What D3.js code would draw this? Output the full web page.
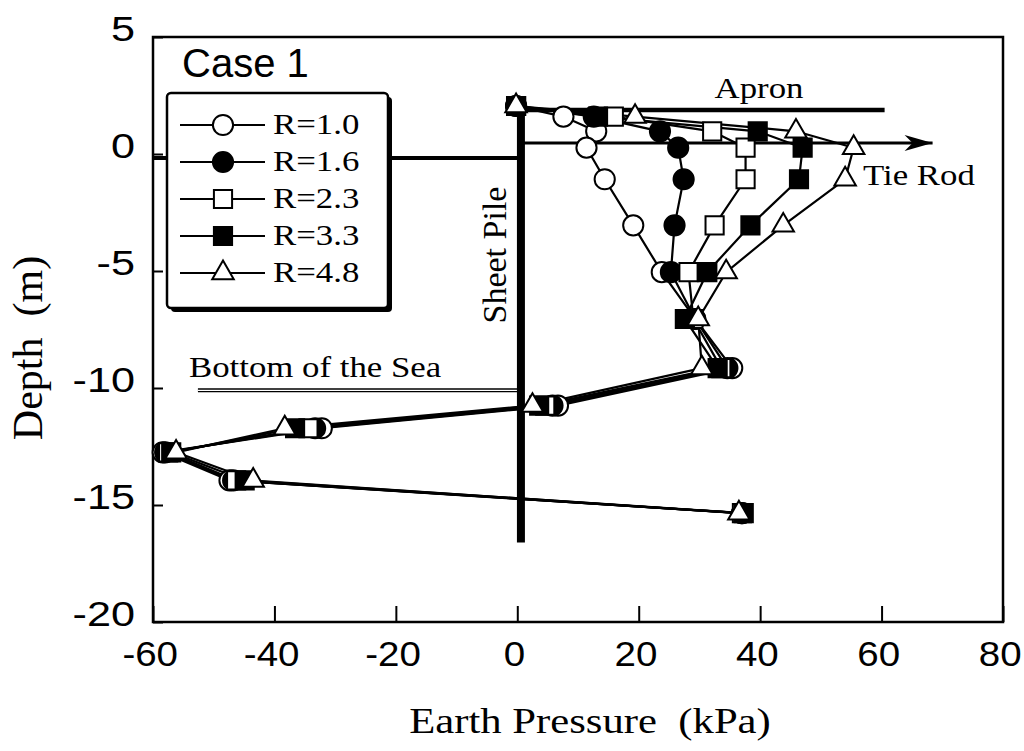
<!DOCTYPE html>
<html>
<head>
<meta charset="utf-8">
<script src="https://cdn.jsdelivr.net/npm/d3@7"></script>
<style>
  body { margin: 0; background: #fff; }
  svg { display: block; }
</style>
</head>
<body>
<div id="chart"></div>
<script>
// Depth of each measuring point (m), same for every case
const depths = [2.05, 1.6, 0.97, 0.27, -1.08, -3.05, -5.05, -7.05, -9.15, -10.75, -11.72, -12.75, -13.95, -15.35];

// Earth pressure (kPa) at those depths, one list per R
const pR10 = [-0.2, 7.6, 13.0, 11.4, 14.4, 19.1, 23.8, 29.3, 35.4, 6.7, -32.2, -58.4, -47.4, 37.0];
const pR16 = [-0.2, 12.6, 23.5, 26.5, 27.4, 25.9, 25.3, 29.3, 34.6, 5.8, -33.3, -58.0, -46.8, 37.0];
const pR23 = [-0.2, 15.9, 32.1, 37.6, 37.6, 32.5, 28.2, 29.0, 33.6, 4.6, -34.4, -57.5, -46.3, 37.0];
const pR33 = [-0.2, 13.3, 39.6, 47.0, 46.4, 38.4, 31.3, 27.6, 33.0, 3.6, -36.6, -57.0, -44.9, 37.3];
const pR48 = [-0.2, 19.4, 45.9, 55.4, 54.0, 43.8, 34.4, 29.8, 30.4, 2.5, -38.3, -56.2, -43.5, 36.5];

const seriesNames = ["R=1.0", "R=1.6", "R=2.3", "R=3.3", "R=4.8"];
const seriesValues = [pR10, pR16, pR23, pR33, pR48];
const seriesShapes = ["circle", "circle", "square", "square", "triangle"];
const seriesFilled = [false, true, false, true, false];

const xTicks = [-60, -40, -20, 0, 20, 40, 60, 80];
const yTicks = [5, 0, -5, -10, -15, -20];

// Structures, as [pressure, depth] pairs
const pileLine = [[0.6, 2.35], [0.6, -16.6]];
const apronLine = [[0.6, 1.88], [60.5, 1.88]];
const tieRodLine = [[0.6, 0.47], [68.4, 0.47]];
const groundLine = [[-60, -0.17], [0.6, -0.17]];
const seabedLine = [[-52.6, -10.1], [0.6, -10.1]];

const sans = "'Liberation Sans', Arial, Helvetica, sans-serif";
const serif = "'Liberation Serif', 'Times New Roman', Times, serif";

const width = 1024, height = 751;
const svg = d3.select("#chart").append("svg")
  .attr("width", width)
  .attr("height", height);

// Scales
const x = d3.scaleLinear().domain([-60, 80]).range([153, 1003]);
const y = d3.scaleLinear().domain([-20, 5]).range([622, 37]);

// Axes (ticks point inward)
svg.append("g")
  .attr("transform", `translate(${x(-60)},0)`)
  .call(d3.axisLeft(y).tickValues(yTicks).tickSize(-10).tickSizeOuter(0).tickFormat(d => String(d)))
  .attr("font-family", sans)
  .attr("font-size", 36)
  .call(g => g.select(".domain").remove())
  .call(g => g.selectAll(".tick line").attr("stroke-width", 2))
  .call(g => g.selectAll(".tick text")
    .attr("x", -15).attr("y", 3).attr("dy", null)
    .attr("transform", "scale(1.2,1)"));

svg.append("g")
  .attr("transform", `translate(0,${y(-20)})`)
  .call(d3.axisBottom(x).tickValues(xTicks).tickSize(-16).tickSizeOuter(0).tickFormat(d => String(d)))
  .attr("font-family", sans)
  .attr("font-size", 35)
  .call(g => g.select(".domain").remove())
  .call(g => g.selectAll(".tick line").attr("stroke-width", 2))
  .call(g => g.selectAll(".tick text")
    .attr("x", -3).attr("y", 44).attr("dy", null)
    .attr("transform", "scale(1.1,1)"));

// Frame
svg.append("rect")
  .attr("x", x(-60)).attr("y", y(5))
  .attr("width", x(80) - x(-60)).attr("height", y(-20) - y(5))
  .attr("fill", "none").attr("stroke", "#000").attr("stroke-width", 2.5);

const line = d3.line().x(d => x(d[0])).y(d => y(d[1]));

// Structures
svg.append("path").attr("d", line(groundLine)).attr("stroke", "#000").attr("stroke-width", 4).attr("fill", "none");
svg.append("path").attr("d", line(seabedLine)).attr("stroke", "#000").attr("stroke-width", 4).attr("fill", "none");
svg.append("path").attr("d", line(seabedLine)).attr("stroke", "#fff").attr("stroke-width", 1.3).attr("fill", "none");
svg.append("path").attr("d", line(apronLine)).attr("stroke", "#000").attr("stroke-width", 4.5).attr("fill", "none");
svg.append("path").attr("d", line(tieRodLine)).attr("stroke", "#000").attr("stroke-width", 3).attr("fill", "none");
svg.append("path").attr("d", line(pileLine)).attr("stroke", "#000").attr("stroke-width", 8).attr("fill", "none");

// Tie rod arrow head
const tipX = x(tieRodLine[1][0]), tipY = y(tieRodLine[1][1]);
svg.append("path")
  .attr("d", `M${tipX},${tipY} L${tipX - 28},${tipY - 8} L${tipX - 20},${tipY} L${tipX - 28},${tipY + 8} Z`)
  .attr("fill", "#000");

// Markers
const symbolType = {circle: d3.symbolCircle, square: d3.symbolSquare, triangle: d3.symbolTriangle};
const symbolSize = {circle: 320, square: 330, triangle: 200};
function marker(sel, i) {
  sel.append("path")
    .attr("d", d3.symbol(symbolType[seriesShapes[i]], symbolSize[seriesShapes[i]])())
    .attr("fill", seriesFilled[i] ? "#000" : "#fff")
    .attr("stroke", "#000")
    .attr("stroke-width", 2);
}

// Series
seriesValues.forEach((vals, i) => {
  const pts = vals.map((v, k) => [v, depths[k]]);
  svg.append("path")
    .attr("d", line(pts))
    .attr("fill", "none")
    .attr("stroke", "#000")
    .attr("stroke-width", 2.2);
});
seriesValues.forEach((vals, i) => {
  const pts = vals.map((v, k) => [v, depths[k]]);
  pts.forEach(p => {
    svg.append("g")
      .attr("transform", `translate(${x(p[0])},${y(p[1])})`)
      .call(marker, i);
  });
});

// Helper for the wide-looking text of the scan
function wideText(parent, px, py, str, font, size, sx, anchor) {
  return parent.append("text")
    .attr("transform", `translate(${px},${py}) scale(${sx},1)`)
    .attr("font-family", font)
    .attr("font-size", size)
    .attr("text-anchor", anchor || "start")
    .style("white-space", "pre")
    .text(str);
}

// Annotations
wideText(svg, 759, 98, "Apron", serif, 29, 1.2, "middle");
wideText(svg, 863, 185, "Tie Rod", serif, 29, 1.2);
wideText(svg, 189, 377, "Bottom of the Sea", serif, 29, 1.2);
svg.append("text")
  .attr("transform", "translate(506,255) rotate(-90)")
  .attr("font-family", serif)
  .attr("font-size", 34)
  .attr("text-anchor", "middle")
  .text("Sheet Pile");

// Case label
svg.append("text")
  .attr("x", 182).attr("y", 77)
  .attr("font-family", sans)
  .attr("font-size", 40)
  .text("Case 1");

// Legend
const lg = svg.append("g").attr("transform", "translate(167,93)");
lg.append("rect").attr("x", 4).attr("y", 4).attr("width", 221).attr("height", 215).attr("rx", 4).attr("fill", "#000");
lg.append("rect").attr("width", 221).attr("height", 215).attr("rx", 4)
  .attr("fill", "#fff").attr("stroke", "#000").attr("stroke-width", 2.5);
seriesNames.forEach((name, i) => {
  const row = lg.append("g").attr("transform", `translate(0,${32 + i * 37})`);
  row.append("line").attr("x1", 13).attr("x2", 98).attr("stroke", "#000").attr("stroke-width", 2.2);
  row.append("g").attr("transform", "translate(56,0)").call(marker, i);
  wideText(row, 106, 9, name, serif, 29, 1.2);
});

// Axis titles
wideText(svg, 590, 733, "Earth Pressure  (kPa)", serif, 35, 1.22, "middle");
svg.append("text")
  .attr("transform", "translate(42,348) rotate(-90)")
  .attr("font-family", serif)
  .attr("font-size", 42)
  .attr("text-anchor", "middle")
  .style("white-space", "pre")
  .text("Depth  (m)");
</script>
</body>
</html>
